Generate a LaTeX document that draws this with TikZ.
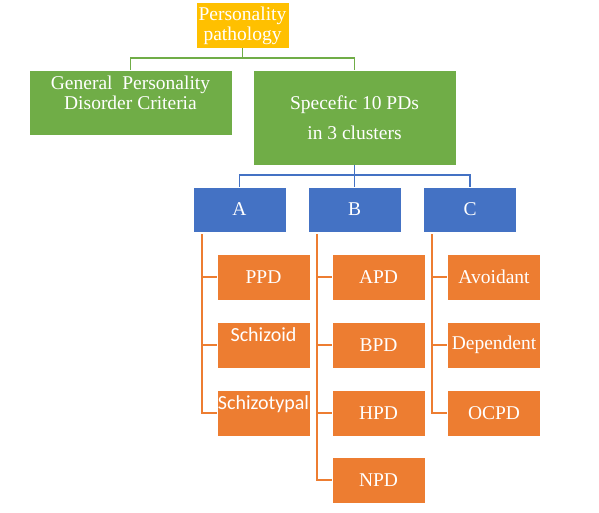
\documentclass[tikz,border=0pt]{standalone}
\usepackage{fontspec}
\setmainfont{Liberation Serif}
\newfontfamily\carlito{Carlito}
\usepackage{tikz}

\definecolor{boxyellow}{HTML}{FFC000}
\definecolor{boxgreen}{HTML}{70AD47}
\definecolor{boxblue}{HTML}{4472C4}
\definecolor{boxorange}{HTML}{ED7D31}

\begin{document}
\begin{tikzpicture}[x=1pt,y=-1pt,node distance=68pt,
        font=\fontsize{19.5}{20}\selectfont]
                \tikzstyle{every node}=[text=white,draw=white,line width=0.5pt,inner sep=0pt,align=center]
                \tikzstyle{root}=[fill=boxyellow,minimum width=93pt,minimum height=46pt,text depth=3pt]
                \tikzstyle{branch}=[fill=boxgreen,minimum width=203pt]
                \tikzstyle{cluster}=[fill=boxblue,minimum width=93pt,minimum height=45pt]
                \tikzstyle{pd}=[fill=boxorange,minimum width=93pt,minimum height=46pt]
                \tikzstyle{topsans}=[font=\carlito\fontsize{20}{20}\selectfont,text height=14pt,text depth=22pt]
                \tikzstyle{greenlink}=[draw=boxgreen,line width=1.6pt]
                \tikzstyle{bluelink}=[draw=boxblue,line width=1.6pt]
                \tikzstyle{orangelink}=[draw=boxorange,line width=2pt]

                \useasboundingbox (0,0) rectangle (599,513);

                \node[root]   (top)  at (242.5,25)   {Personality\\pathology};
                \node[branch,minimum height=65pt] (gen)  at (130.5,102.5) {General\ \ Personality\\Disorder Criteria\\\mbox{}};
                \node[branch,minimum height=95pt] (spec) at (354.5,117.5) {Specefic 10 PDs\\[10pt]in 3 clusters};

                \node[cluster]                      (A) at (239.5,209.5) {A};
                \node[cluster,node distance=115pt]  (B) [right of=A] {B};
                \node[cluster,node distance=115.5pt] (C) [right of=B] {C};

                \node[pd]         (ppd)         at (263.5,277) {PPD};
                \node[pd,topsans] (schizoid)    [below of=ppd]      {Schizoid};
                \node[pd,topsans] (schizotypal) [below of=schizoid] {Schizotypal};

                \node[pd,node distance=115pt] (apd) [right of=ppd] {APD};
                \node[pd]         (bpd)         [below of=apd] {BPD};
                \node[pd]         (hpd)         [below of=bpd] {HPD};
                \node[pd,node distance=67pt] (npd) [below of=hpd] {NPD};

                \node[pd,node distance=115.5pt] (avoidant) [right of=apd] {Avoidant};
                \node[pd]         (dependent)   [below of=avoidant]  {Dependent};
                \node[pd]         (ocpd)        [below of=dependent] {OCPD};

                % tree links
                \draw[greenlink] (top.south) -- ++(0,10) -| (gen.north);
                \draw[greenlink] (top.south) -- ++(0,10) -| (spec.north);
                \draw[bluelink]  (spec.south) -- ++(0,10) -| (A.north);
                \draw[bluelink]  (spec.south) -- ++(0,10) -| (B.north);
                \draw[bluelink]  (spec.south) -- ++(0,10) -| (C.north);

                \foreach \from/\to in {A/ppd,A/schizoid,A/schizotypal,
                                       B/apd,B/bpd,B/hpd,B/npd,
                                       C/avoidant,C/dependent,C/ocpd}
                    \draw[orangelink] ([xshift=9pt,yshift=-2pt]\from.south west) |- (\to.west);
            \end{tikzpicture}
\end{document}
